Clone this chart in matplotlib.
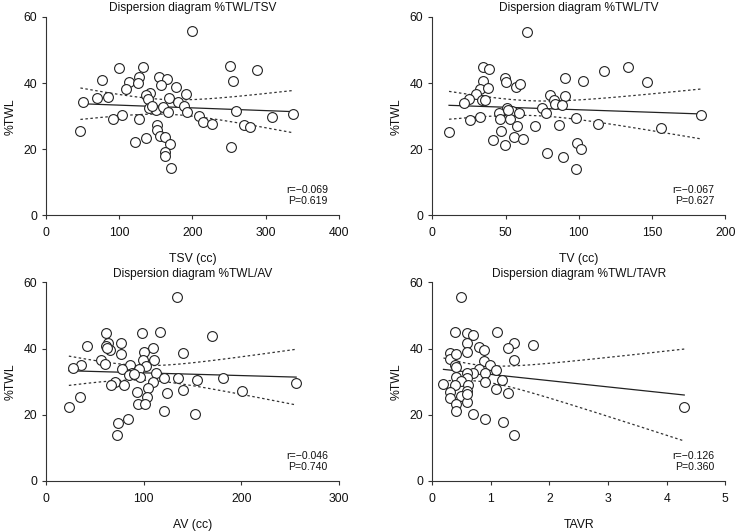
import numpy as np
import matplotlib
matplotlib.use("Agg")
import matplotlib.pyplot as plt

plt.rcParams['font.family'] = ['Liberation Sans', 'DejaVu Sans']

# panel 1: %TWL vs TSV
tsv_x = [199, 100, 133, 251, 288, 77, 113, 127, 125, 154, 165, 157, 255, 109, 178,
         142, 137, 191, 69, 85, 50, 139, 168, 180, 140, 150, 160, 167, 188, 193,
         259, 209, 309, 337, 104, 92, 127, 215, 227, 271, 279, 151, 151, 47,
         156, 163, 136, 122, 170, 253, 162, 162, 171, 145]
tsv_y = [55.8, 44.7, 44.9, 45.2, 44.0, 40.9, 40.5, 41.9, 39.9, 41.9, 41.2, 39.3, 40.6, 38.3, 38.8,
         36.9, 36.5, 36.7, 35.5, 35.7, 34.4, 35.1, 35.4, 34.2, 32.6, 32.0, 32.8, 31.4, 33.0, 31.4,
         31.5, 30.2, 29.8, 30.7, 30.4, 29.3, 29.3, 28.2, 27.7, 27.4, 26.8, 27.2, 25.7, 25.5,
         24.0, 23.6, 23.4, 22.3, 21.6, 20.6, 19.1, 18.1, 14.3, 33.0]

# panel 2: %TWL vs TV
tv_x = [64.5, 34.4, 38.7, 133.9, 117.5, 146.5, 34.9, 49.7, 50.6, 57.2, 59.9, 90.7, 103.0, 32.6,
        37.8, 30.1, 24.8, 21.4, 33.9, 35.8, 80.6, 90.7, 82.9, 84.0, 88.2, 75.2, 77.9, 51.3,
        54.2, 59.0, 45.6, 46.5, 52.8, 32.6, 25.7, 97.9, 112.8, 183.1, 155.8, 11.4, 47.0,
        57.9, 69.9, 86.8, 41.7, 49.9, 55.8, 62.2, 98.9, 101.8, 78.4, 89.5, 98.4, 52.0]
tv_y = [55.4, 44.8, 44.4, 44.9, 43.6, 40.2, 40.6, 41.7, 40.4, 38.9, 39.6, 41.6, 40.8, 38.2,
        38.4, 36.6, 35.3, 34.0, 34.8, 34.8, 36.5, 36.2, 34.8, 33.7, 33.3, 32.6, 31.0, 32.4,
        31.6, 31.1, 30.9, 29.1, 29.2, 29.9, 28.9, 29.6, 27.8, 30.4, 26.4, 25.2, 25.4,
        26.9, 26.9, 27.3, 22.9, 21.3, 23.7, 23.1, 22.0, 20.2, 18.9, 17.6, 14.0, 31.8]

# panel 3: %TWL vs AV
av_x = [134.5, 61.7, 98.3, 117.0, 170.4, 63.1, 77.1, 42.2, 61.4, 65.5, 110.0, 100.3, 140.3,
        76.4, 56.2, 60.7, 99.7, 110.3, 35.7, 27.2, 86.0, 102.7, 78.1, 95.2, 88.4, 84.6,
        113.0, 96.2, 120.9, 134.9, 154.7, 181.7, 256.2, 70.3, 66.1, 80.2, 110.0, 104.1,
        140.3, 201.2, 93.2, 123.6, 35.0, 103.8, 23.4, 94.5, 101.4, 120.5, 152.3, 83.9,
        73.3, 72.6, 62.0, 90.0]
av_y = [55.7, 44.7, 44.8, 45.0, 43.8, 41.7, 41.8, 40.7, 40.7, 39.6, 40.2, 39.1, 38.6,
        38.3, 36.5, 35.4, 36.5, 36.6, 35.0, 34.1, 35.1, 34.8, 33.7, 33.8, 32.5, 31.9,
        32.6, 31.4, 31.0, 31.1, 30.5, 31.1, 29.5, 30.0, 29.0, 29.1, 29.8, 28.1,
        27.5, 27.1, 26.9, 26.5, 25.3, 25.5, 22.3, 23.2, 23.3, 21.2, 20.3, 18.8,
        17.6, 14.0, 40.3, 32.3]

# panel 4: %TWL vs TAVR
tavr_x = [0.49, 0.39, 0.59, 0.69, 1.10, 1.71, 1.40, 1.29, 0.59, 0.59, 0.80, 0.89, 0.30, 0.30,
          0.40, 0.39, 0.89, 0.99, 1.40, 0.80, 1.09, 0.69, 0.59, 0.90, 0.40, 0.60, 0.49, 1.19,
          0.19, 0.39, 0.61, 0.90, 1.09, 0.30, 0.60, 1.30, 0.49, 0.30, 0.59, 0.40, 0.40, 4.30,
          0.69, 0.90, 1.20, 1.40, 0.60, 0.40]
tavr_y = [55.7, 44.9, 44.8, 44.0, 45.0, 41.1, 41.7, 40.2, 41.8, 39.1, 40.6, 39.7, 38.7, 36.8,
          38.3, 35.1, 36.4, 35.2, 36.6, 34.0, 33.6, 32.7, 32.5, 32.5, 31.3, 31.2, 30.3, 30.5,
          29.4, 29.0, 28.9, 29.9, 27.9, 27.0, 27.2, 26.5, 25.6, 25.2, 23.8, 23.2, 21.1, 22.4,
          20.2, 18.8, 17.7, 14.0, 26.2, 34.6]

titles = ["Dispersion diagram %TWL/TSV", "Dispersion diagram %TWL/TV",
          "Dispersion diagram %TWL/AV", "Dispersion diagram %TWL/TAVR"]
xlabels = ["TSV (cc)", "TV (cc)", "AV (cc)", "TAVR"]
xticks = [[0, 100, 200, 300, 400], [0, 50, 100, 150, 200],
          [0, 100, 200, 300], [0, 1, 2, 3, 4, 5]]
stats = [("\u22120.069", "0.619"), ("\u22120.067", "0.627"),
         ("\u22120.046", "0.740"), ("\u22120.126", "0.360")]
data = [(tsv_x, tsv_y), (tv_x, tv_y), (av_x, av_y), (tavr_x, tavr_y)]

positions = [[0.0625, 0.5942, 0.398, 0.3738], [0.5874, 0.5942, 0.398, 0.3738],
             [0.0625, 0.0942, 0.398, 0.3738], [0.5874, 0.0942, 0.398, 0.3738]]

T975 = 2.007  # t quantile for ~52 df

fig = plt.figure(figsize=(7.36, 5.31), dpi=100)
axis_col = "#333333"

for i in range(4):
    ax = fig.add_axes(positions[i])
    x = np.array(data[i][0], dtype=float)
    y = np.array(data[i][1], dtype=float)

    # regression line with 95% confidence band
    slope, icpt = np.polyfit(x, y, 1)
    xs = np.linspace(x.min(), x.max(), 200)
    fit = icpt + slope * xs
    resid = y - (icpt + slope * x)
    s = np.sqrt(np.sum(resid ** 2) / (len(x) - 2))
    se = s * np.sqrt(1 / len(x) + (xs - x.mean()) ** 2 / np.sum((x - x.mean()) ** 2))
    ax.plot(xs, fit, color="#222222", lw=0.9, zorder=2)
    ax.plot(xs, fit + T975 * se, color="#333333", lw=0.9, ls=(0, (2, 2)), zorder=2)
    ax.plot(xs, fit - T975 * se, color="#333333", lw=0.9, ls=(0, (2, 2)), zorder=2)

    ax.scatter(x, y, s=50, facecolors="white", edgecolors="#222222",
               linewidths=0.8, zorder=3)

    ax.set_xlim(xticks[i][0], xticks[i][-1])
    ax.set_ylim(0, 60)
    ax.set_xticks(xticks[i])
    ax.set_yticks([0, 20, 40, 60])
    for sp in ["top", "right"]:
        ax.spines[sp].set_visible(False)
    for sp in ["left", "bottom"]:
        ax.spines[sp].set_color(axis_col)
        ax.spines[sp].set_linewidth(0.8)
    ax.tick_params(direction="out", length=3, width=0.8, color=axis_col,
                   labelsize=8.8, pad=3.5, labelcolor="#111111")
    ax.tick_params(axis="x", pad=5.5)

    ax.set_title(titles[i], fontsize=8.6, pad=4, color="#111111")
    ax.set_xlabel(xlabels[i], fontsize=8.8, labelpad=10, color="#111111")
    ax.set_ylabel("%TWL", fontsize=8.8, labelpad=5, color="#111111")

    ax.text(0.962, 0.10, "r=" + stats[i][0] + "\nP=" + stats[i][1],
            transform=ax.transAxes, ha="right", va="center", multialignment="right",
            fontsize=7.6, color="#111111", linespacing=1.15)

fig.savefig("out.png", dpi=100)
